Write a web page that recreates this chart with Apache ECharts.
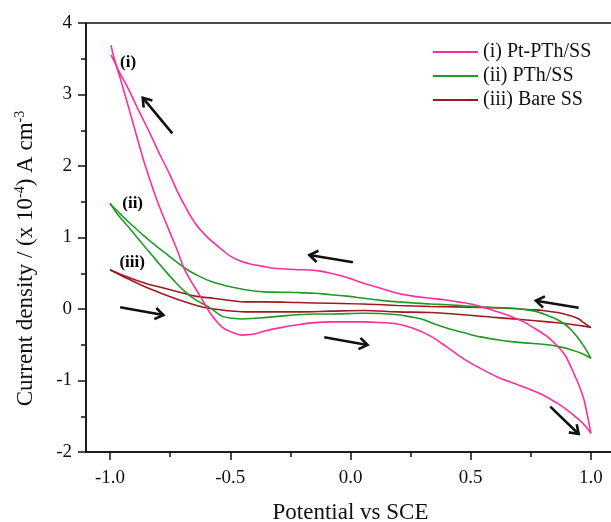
<!DOCTYPE html>
<html>
<head>
<meta charset="utf-8">
<title>Cyclic voltammograms</title>
<script src="https://cdn.jsdelivr.net/npm/echarts@6/dist/echarts.min.js"></script>
<style>
  html, body { margin: 0; padding: 0; background: #fff; }
  #chart { width: 611px; height: 522px; }
</style>
</head>
<body>
<div id="chart"></div>
<script>
// Potential (V vs SCE) and current density (x 10^-4 A cm^-3), forward and reverse sweeps.
const seriesNames = ['(i) Pt-PTh/SS', '(ii) PTh/SS', '(iii) Bare SS'];
const seriesColors = ['#ff2d9b', '#1f9a27', '#9e1a22'];

const ptForward = [[-0.996,3.55],[-0.972,3.38],[-0.934,2.95],[-0.896,2.50],[-0.855,2.02],[-0.808,1.55],[-0.757,1.12],[-0.718,0.80],[-0.695,0.59],[-0.667,0.41],[-0.625,0.18],[-0.583,-0.06],[-0.535,-0.25],[-0.49,-0.33],[-0.452,-0.365],[-0.40,-0.35],[-0.36,-0.31],[-0.29,-0.26],[-0.22,-0.22],[-0.15,-0.19],[-0.083,-0.18],[0.0,-0.18],[0.055,-0.18],[0.125,-0.19],[0.195,-0.21],[0.26,-0.27],[0.333,-0.38],[0.40,-0.53],[0.472,-0.70],[0.54,-0.83],[0.611,-0.95],[0.68,-1.04],[0.75,-1.13],[0.81,-1.22],[0.861,-1.32],[0.90,-1.41],[0.944,-1.53],[0.975,-1.63],[1.0,-1.74]];
const ptReverse = [[1.0,-1.74],[0.986,-1.50],[0.972,-1.28],[0.952,-1.08],[0.93,-0.91],[0.91,-0.76],[0.889,-0.63],[0.855,-0.50],[0.82,-0.39],[0.77,-0.28],[0.72,-0.18],[0.665,-0.10],[0.611,-0.04],[0.555,0.02],[0.5,0.07],[0.444,0.10],[0.39,0.13],[0.333,0.15],[0.26,0.18],[0.195,0.22],[0.125,0.29],[0.055,0.36],[-0.014,0.44],[-0.083,0.50],[-0.125,0.53],[-0.17,0.545],[-0.22,0.55],[-0.27,0.56],[-0.32,0.57],[-0.37,0.60],[-0.417,0.63],[-0.458,0.67],[-0.5,0.74],[-0.535,0.83],[-0.56,0.90],[-0.60,1.02],[-0.646,1.20],[-0.69,1.45],[-0.722,1.66],[-0.75,1.87],[-0.79,2.14],[-0.833,2.45],[-0.88,2.77],[-0.93,3.12],[-0.972,3.39],[-0.996,3.69]];

const pthForward = [[-1.0,1.48],[-0.97,1.33],[-0.924,1.15],[-0.87,0.93],[-0.83,0.77],[-0.785,0.59],[-0.735,0.40],[-0.6875,0.24],[-0.64,0.12],[-0.59,0.03],[-0.535,-0.10],[-0.49,-0.13],[-0.451,-0.14],[-0.40,-0.13],[-0.36,-0.12],[-0.29,-0.10],[-0.22,-0.08],[-0.15,-0.07],[-0.083,-0.07],[0.055,-0.06],[0.195,-0.08],[0.25,-0.11],[0.305,-0.15],[0.35,-0.21],[0.403,-0.27],[0.47,-0.33],[0.54,-0.39],[0.61,-0.43],[0.68,-0.46],[0.75,-0.48],[0.82,-0.50],[0.87,-0.53],[0.917,-0.57],[0.96,-0.62],[1.0,-0.69]];
const pthReverse = [[1.0,-0.69],[0.985,-0.60],[0.972,-0.53],[0.945,-0.40],[0.917,-0.29],[0.89,-0.21],[0.861,-0.15],[0.82,-0.09],[0.778,-0.04],[0.73,-0.01],[0.68,0.01],[0.61,0.02],[0.54,0.03],[0.47,0.045],[0.403,0.06],[0.333,0.07],[0.26,0.085],[0.195,0.10],[0.125,0.12],[0.055,0.15],[-0.014,0.18],[-0.083,0.20],[-0.15,0.22],[-0.22,0.23],[-0.29,0.235],[-0.36,0.24],[-0.4375,0.27],[-0.5,0.31],[-0.576,0.38],[-0.63,0.46],[-0.6875,0.57],[-0.77,0.78],[-0.854,1.01],[-0.93,1.24],[-0.97,1.37],[-1.0,1.47]];

const ssForward = [[-1.0,0.55],[-0.93,0.43],[-0.854,0.31],[-0.78,0.21],[-0.715,0.13],[-0.65,0.06],[-0.59,0.01],[-0.52,-0.02],[-0.4375,-0.04],[-0.3,-0.04],[-0.22,-0.04],[-0.083,-0.03],[0.055,-0.02],[0.195,-0.04],[0.333,-0.05],[0.47,-0.08],[0.611,-0.12],[0.72,-0.15],[0.82,-0.18],[0.88,-0.20],[0.93,-0.22],[0.97,-0.24],[1.0,-0.26]];
const ssReverse = [[1.0,-0.26],[0.97,-0.19],[0.944,-0.13],[0.90,-0.08],[0.861,-0.05],[0.80,-0.02],[0.75,-0.01],[0.65,0.01],[0.54,0.02],[0.44,0.03],[0.333,0.035],[0.195,0.05],[0.055,0.07],[-0.083,0.08],[-0.22,0.09],[-0.35,0.10],[-0.4375,0.10],[-0.5,0.12],[-0.57,0.15],[-0.646,0.18],[-0.75,0.27],[-0.854,0.36],[-0.93,0.45],[-1.0,0.55]];

// Curve tags and where they sit (data coordinates)
const curveTags = ['(i)', '(ii)', '(iii)'];
const tagPositions = [[-0.925, 3.44], [-0.906, 1.475], [-0.908, 0.65]];

// Scan-direction arrows: [xTail, yTail, xHead, yHead]
const scanArrows = [
  [-0.741, 2.457, -0.864, 2.955],
  [0.010, 0.653, -0.171, 0.755],
  [-0.958, 0.024, -0.778, -0.084],
  [-0.109, -0.396, 0.071, -0.503],
  [0.949, 0.018, 0.771, 0.116],
  [0.831, -1.366, 0.949, -1.748]
];

const xTicks = [-1.0, -0.5, 0.0, 0.5, 1.0];
const xMinorTicks = [-0.75, -0.25, 0.25, 0.75];

const FONT = '"Liberation Serif", "Times New Roman", serif';
const INK = '#111';

const sweeps = [
  [ptForward, ptReverse],
  [pthForward, pthReverse],
  [ssForward, ssReverse]
];

const lineSeries = [];
sweeps.forEach(function (pair, i) {
  pair.forEach(function (pts) {
    lineSeries.push({
      name: seriesNames[i],
      type: 'line',
      xAxisIndex: 0,
      data: pts,
      showSymbol: false,
      smooth: 0.35,
      clip: false,
      color: seriesColors[i],
      lineStyle: { color: seriesColors[i], width: 1.6 },
      z: 3 - i
    });
  });
});

const chart = echarts.init(document.getElementById('chart'), null, { renderer: 'canvas' });

chart.setOption({
  animation: false,
  backgroundColor: '#fff',
  grid: {
    left: 86, top: 23, width: 529, height: 429,
    outerBoundsMode: 'none',
    containLabel: false,
    show: true, borderColor: INK, borderWidth: 1.5, backgroundColor: 'transparent'
  },
  legend: {
    data: seriesNames,
    orient: 'vertical',
    left: 428, top: 37,
    padding: 5,
    icon: 'rect',
    itemWidth: 45, itemHeight: 2, itemGap: 4,
    textStyle: { fontFamily: FONT, fontSize: 20, color: INK, lineHeight: 20 }
  },
  xAxis: [{
    type: 'value',
    min: -1.1, max: 1.1,
    name: 'Potential vs SCE',
    nameLocation: 'middle',
    nameGap: 49,
    nameTextStyle: { fontFamily: FONT, fontSize: 23, color: INK },
    axisLine: { show: true, onZero: false, lineStyle: { color: INK, width: 1.5 } },
    axisTick: { show: true, inside: false, length: 8, customValues: xTicks, lineStyle: { color: INK, width: 1.5 } },
    axisLabel: {
      customValues: xTicks, margin: 17,
      fontFamily: FONT, fontSize: 19, color: INK,
      formatter: function (v) { return v.toFixed(1); }
    },
    splitLine: { show: false }
  }, {
    type: 'value',
    position: 'bottom',
    min: -1.1, max: 1.1,
    axisLine: { show: false, onZero: false },
    axisTick: { show: true, inside: false, length: 5, customValues: xMinorTicks, lineStyle: { color: INK, width: 1.5 } },
    axisLabel: { show: false },
    splitLine: { show: false }
  }],
  yAxis: {
    type: 'value',
    min: -2, max: 4, interval: 1,
    name: '{a|Current density / (x 10}{s|-4}{a|) A cm}{s|-3}',
    nameLocation: 'middle',
    nameRotate: 90,
    nameGap: 47,
    nameTextStyle: {
      fontFamily: FONT, fontSize: 23, color: INK,
      padding: [0, 42, 0, 0],
      rich: {
        a: { fontFamily: FONT, fontSize: 23, color: INK, lineHeight: 26 },
        s: { fontFamily: FONT, fontSize: 14, color: INK, verticalAlign: 'top', lineHeight: 26 }
      }
    },
    axisLine: { show: true, onZero: false, lineStyle: { color: INK, width: 1.5 } },
    axisTick: { show: true, inside: false, length: 8, lineStyle: { color: INK, width: 1.5 } },
    minorTick: { show: true, splitNumber: 2, length: 5, lineStyle: { color: INK, width: 1.5 } },
    axisLabel: { margin: 14, fontFamily: FONT, fontSize: 19, color: INK },
    splitLine: { show: false },
    minorSplitLine: { show: false }
  },
  series: lineSeries.concat([
    {
      name: 'tags',
      type: 'scatter',
      xAxisIndex: 0,
      symbolSize: 0,
      silent: true,
      itemStyle: { opacity: 1 },
      data: curveTags.map(function (t, i) { return { name: t, value: tagPositions[i] }; }),
      label: {
        show: true, position: 'inside',
        formatter: function (p) { return p.name; },
        fontFamily: FONT, fontSize: 17, fontWeight: 'bold', color: '#000', opacity: 1
      },
      z: 5
    },
    {
      name: 'arrows',
      type: 'custom',
      xAxisIndex: 0,
      silent: true,
      data: scanArrows,
      renderItem: function (params, api) {
        const p0 = api.coord([api.value(0), api.value(1)]);
        const p1 = api.coord([api.value(2), api.value(3)]);
        const ang = Math.atan2(p1[1] - p0[1], p1[0] - p0[0]);
        const L = 10, a = Math.PI / 5.2;
        const h1 = [p1[0] - L * Math.cos(ang - a), p1[1] - L * Math.sin(ang - a)];
        const h2 = [p1[0] - L * Math.cos(ang + a), p1[1] - L * Math.sin(ang + a)];
        const st = { stroke: INK, lineWidth: 2.6, fill: null, lineCap: 'butt', lineJoin: 'miter' };
        return {
          type: 'group',
          children: [
            { type: 'polyline', shape: { points: [p0, [p1[0] - 1.5 * Math.cos(ang), p1[1] - 1.5 * Math.sin(ang)]] }, style: st },
            { type: 'polyline', shape: { points: [h1, p1, h2] }, style: st }
          ]
        };
      },
      z: 6
    }
  ])
});
</script>
</body>
</html>
